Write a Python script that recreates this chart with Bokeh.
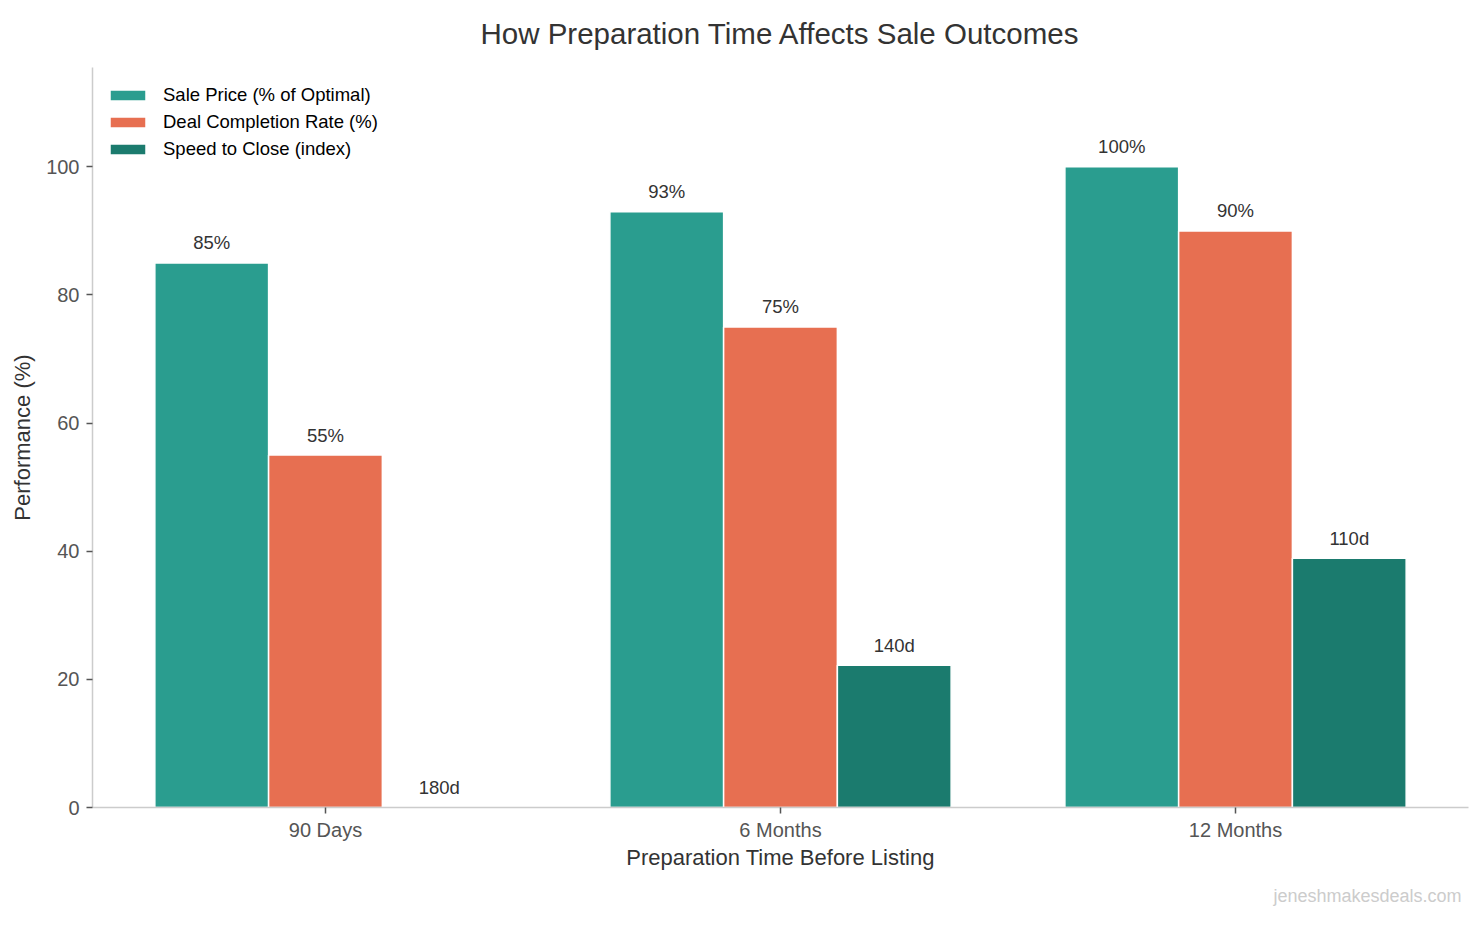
from bokeh.plotting import figure
from bokeh.models import (ColumnDataSource, FixedTicker, Legend, LegendItem,
                          Title, Range1d)
from bokeh.transform import dodge
from bokeh.core.properties import value
from bokeh.embed import file_html
from bokeh.resources import INLINE

# ---- data ----
categories = ["90 Days", "6 Months", "12 Months"]
sale_price = [85, 93, 100]
completion_rate = [55, 75, 90]
speed_index = [0, 22.2, 38.9]
speed_days = ["180d", "140d", "110d"]
series_names = ["Sale Price (% of Optimal)", "Deal Completion Rate (%)",
                "Speed to Close (index)"]
colors = ["#2a9d8f", "#e76f51", "#1b7b6e"]
y_ticks = [0, 20, 40, 60, 80, 100]

FONT = "Liberation Sans"

source = ColumnDataSource(dict(
    x=list(range(len(categories))),
    sale=sale_price,
    comp=completion_rate,
    speed=speed_index,
    sale_lbl=[f"{v}%" for v in sale_price],
    comp_lbl=[f"{v}%" for v in completion_rate],
    speed_lbl=speed_days,
))

p = figure(width=1475, height=917,
           x_range=Range1d(-0.512, 2.512), y_range=Range1d(0, 115.5),
           output_backend="svg", toolbar_location=None,
           min_border_left=92, min_border_right=7,
           min_border_top=67, min_border_bottom=110)

p.title.text = "How Preparation Time Affects Sale Outcomes"
p.title.align = "center"
p.title.vertical_align = "top"
p.title.text_font = FONT
p.title.text_font_size = "29.5px"
p.title.text_font_style = "normal"
p.title.text_color = "#333333"
p.title.standoff = 31

offsets = [-0.25, 0.0, 0.25]
cols = ["sale", "comp", "speed"]
lbls = ["sale_lbl", "comp_lbl", "speed_lbl"]
renderers = []
for off, col, lbl, c in zip(offsets, cols, lbls, colors):
    r = p.vbar(x=dodge("x", off, range=p.x_range), top=col, width=0.25,
               source=source, fill_color=c, line_color="white", line_width=1.5)
    renderers.append(r)
    p.text(x=dodge("x", off, range=p.x_range), y=col, text=lbl, source=source,
           text_align="center", text_baseline="alphabetic", y_offset=-20,
           text_font=value(FONT), text_font_size="18.5px", text_color="#333333")

legend = Legend(items=[LegendItem(label=n, renderers=[r])
                       for n, r in zip(series_names, renderers)],
                location=(13, 647), padding=0, margin=0,
                border_line_alpha=0, background_fill_alpha=0,
                glyph_width=45, glyph_height=14, label_standoff=13,
                label_text_font=FONT, label_text_font_size="18.5px",
                label_text_color="#000000", label_height=20, spacing=5)
p.add_layout(legend)

# axes
p.xaxis.ticker = FixedTicker(ticks=list(range(len(categories))))
p.xaxis.major_label_overrides = {i: c for i, c in enumerate(categories)}
p.yaxis.ticker = FixedTicker(ticks=y_ticks)
p.xaxis.axis_label = "Preparation Time Before Listing"
p.yaxis.axis_label = "Performance (%)"
for ax in (p.xaxis, p.yaxis):
    ax.axis_line_color = "#cccccc"
    ax.axis_line_width = 1.5
    ax.major_tick_line_color = "#555555"
    ax.major_tick_line_width = 1.5
    ax.major_tick_out = 6
    ax.major_tick_in = 0
    ax.minor_tick_line_color = None
    ax.major_label_text_font = FONT
    ax.major_label_text_font_size = "20px"
    ax.major_label_text_color = "#555555"
    ax.axis_label_text_font = FONT
    ax.axis_label_text_font_size = "22px"
    ax.axis_label_text_font_style = "normal"
    ax.axis_label_text_color = "#333333"
    ax.major_label_standoff = 7
p.xaxis.major_label_standoff = 5
p.xaxis.axis_label_standoff = 1
p.yaxis.axis_label_standoff = 8

p.xgrid.visible = False
p.ygrid.visible = False
p.outline_line_color = None

wm = Title(text="jeneshmakesdeals.com", align="right", text_color="#cccccc",
           text_font=FONT, text_font_size="18px", text_font_style="normal",
           standoff=23, offset=7)
p.add_layout(wm, "below")

open("out.html", "w").write(file_html(p, INLINE))
